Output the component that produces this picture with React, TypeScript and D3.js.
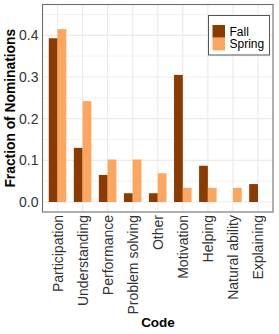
import React from "react";
import * as d3 from "d3";

const categories = ["Participation", "Understanding", "Performance", "Problem solving", "Other", "Motivation", "Helping", "Natural ability", "Explaining"];
const fallValues = [0.393, 0.130, 0.065, 0.021, 0.021, 0.305, 0.087, 0, 0.043];
const springValues = [0.415, 0.242, 0.102, 0.102, 0.069, 0.034, 0.034, 0.034, 0];
const seriesNames = ["Fall", "Spring"];
const yTicks = [0, 0.1, 0.2, 0.3, 0.4];
const yMinor = [0.05, 0.15, 0.25, 0.35, 0.45];

const W = 279, H = 334;
const left = 42.5, right = 273, top = 4.5, bottom = 212;
const colors = ["#8B3A02", "#FDA660"];
const font = "'Liberation Sans', Arial, Helvetica, sans-serif";

export default function App() {
  const step = (right - left) / (categories.length + 0.2);
  const x = d3.scaleBand().domain(categories).range([left + 0.1 * step, right - 0.1 * step]).padding(0);
  const groupW = 0.7 * step;
  const xs = d3.scaleBand().domain(seriesNames).range([0, groupW]).padding(0);
  const y = d3.scaleLinear().domain([-0.024, 0.474]).range([bottom, top]);
  const series = [fallValues, springValues];

  return (
    <svg width={W} height={H} style={{ position: "absolute", left: 0, top: 0 }}>
      <rect x={0} y={0} width={W} height={H} fill="#fff" />
      {yMinor.map((t) => (
        <line key={"mn" + t} x1={left} x2={right} y1={y(t)} y2={y(t)} stroke="#f0f0f0" strokeWidth={0.8} />
      ))}
      {yTicks.map((t) => (
        <line key={"mj" + t} x1={left} x2={right} y1={y(t)} y2={y(t)} stroke="#ebebeb" strokeWidth={1.1} />
      ))}
      {categories.map((c) => (
        <line key={"vg" + c} x1={x(c)! + x.bandwidth() / 2} x2={x(c)! + x.bandwidth() / 2} y1={top} y2={bottom} stroke="#ebebeb" strokeWidth={1.1} />
      ))}
      {categories.map((c, i) => (
        <g key={"b" + c}>
          {series.map((vals, s) => {
            const v = vals[i];
            if (!v) return null;
            const bx = x(c)! + x.bandwidth() / 2 - groupW / 2 + xs(seriesNames[s])!;
            return <rect key={s} x={bx} y={y(v)} width={xs.bandwidth()} height={y(0) - y(v)} fill={colors[s]} />;
          })}
        </g>
      ))}
      <rect x={left} y={top} width={right - left} height={bottom - top} fill="none" stroke="#6e6e6e" strokeWidth={1.1} />
      {yTicks.map((t) => (
        <text key={"yt" + t} x={38.5} y={y(t)} dy="0.36em" textAnchor="end" fontFamily={font} fontSize={14} fill="#333">
          {d3.format(".1f")(t)}
        </text>
      ))}
      {categories.map((c) => {
        const cx = x(c)! + x.bandwidth() / 2;
        return (
          <text key={"xt" + c} transform={`translate(${cx},${bottom + 3}) rotate(-90)`} dy="0.36em" textAnchor="end" fontFamily={font} fontSize={14} fill="#333">
            {c}
          </text>
        );
      })}
      <text transform={`translate(14.5,${(top + bottom) / 2}) rotate(-90)`} textAnchor="middle" fontFamily={font} fontSize={13.8} fontWeight="bold" fill="#000">
        Fraction of Nominations
      </text>
      <text x={158} y={326.5} textAnchor="middle" fontFamily={font} fontSize={13.5} fontWeight="bold" fill="#000">
        Code
      </text>
      <g>
        <rect x={208.5} y={15.5} width={61} height={39.5} fill="#fff" stroke="#555" strokeWidth={1} />
        {seriesNames.map((n, i) => (
          <g key={n}>
            <rect x={212.5} y={25 + i * 12.7} width={12.5} height={12.7} fill={colors[i]} />
            <text x={229.5} y={25 + i * 12.7 + 6.35} dy="0.36em" fontFamily={font} fontSize={12} fill="#000">
              {n}
            </text>
          </g>
        ))}
      </g>
    </svg>
  );
}
